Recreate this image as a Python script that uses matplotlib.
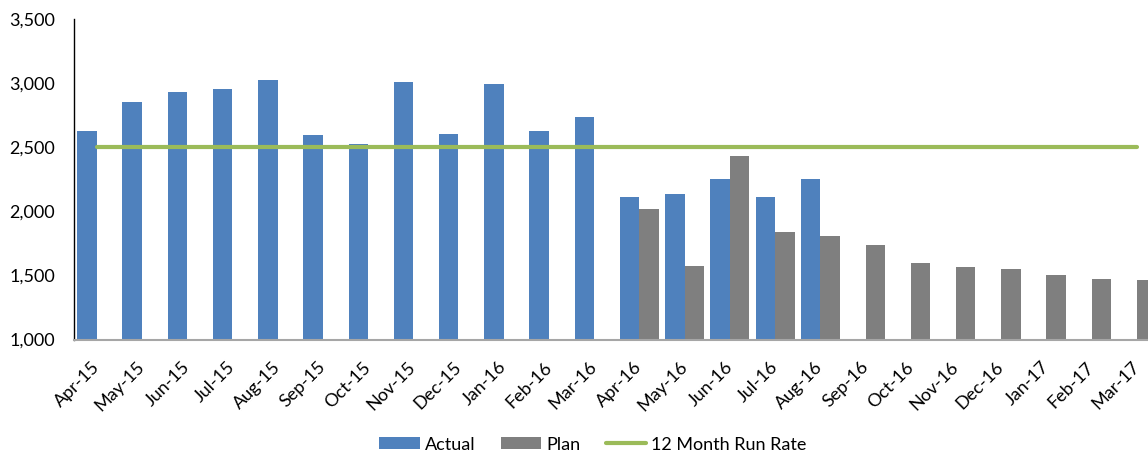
import numpy as np
import matplotlib
matplotlib.use("Agg")
import matplotlib.pyplot as plt
from matplotlib.ticker import FuncFormatter

# ── Data ──────────────────────────────────────────────────────────────────────
months = ["Apr-15", "May-15", "Jun-15", "Jul-15", "Aug-15", "Sep-15",
          "Oct-15", "Nov-15", "Dec-15", "Jan-16", "Feb-16", "Mar-16",
          "Apr-16", "May-16", "Jun-16", "Jul-16", "Aug-16", "Sep-16",
          "Oct-16", "Nov-16", "Dec-16", "Jan-17", "Feb-17", "Mar-17"]

actual = [2630, 2851, 2931, 2955, 3025, 2597, 2526, 3012, 2607, 2991, 2630, 2734,
          2111, 2132, 2249, 2111, 2249,
          np.nan, np.nan, np.nan, np.nan, np.nan, np.nan, np.nan]

plan = [np.nan] * 12 + [2015, 1574, 2433, 1841, 1807, 1737,
                        1600, 1566, 1553, 1506, 1473, 1462]

run_rate = [2500] * 24

BLUE  = "#4F81BD"
GREY  = "#7F7F7F"
GREEN = "#9BBB59"

plt.rcParams["font.family"] = ["Lato", "DejaVu Sans"]
FS = 13

# ── Figure ────────────────────────────────────────────────────────────────────
fig = plt.figure(figsize=(11.48, 4.55), dpi=100, facecolor="white")
ax = fig.add_axes([0.0645, 0.2538, 0.9455, 0.7044])

x = np.arange(len(months))
w = 0.43
b_act = ax.bar(x - w / 2, actual, width=w, color=BLUE, label="Actual", zorder=2)
b_plan = ax.bar(x + w / 2, plan, width=w, color=GREY, label="Plan", zorder=2)
l_rr, = ax.plot(x, run_rate, color=GREEN, lw=3, solid_capstyle="round",
                label="12 Month Run Rate", zorder=3)

ax.set_xlim(-0.5, len(months) - 0.5)
ax.set_ylim(1000, 3500)
ax.set_yticks(np.arange(1000, 3501, 500))
ax.yaxis.set_major_formatter(FuncFormatter(lambda v, p: f"{v:,.0f}"))

ax.set_xticks(x)
ax.set_xticklabels(months, rotation=45, ha="right", va="center",
                   rotation_mode="anchor")
ax.tick_params(axis="y", length=0, pad=13.5, labelsize=FS, labelcolor="black")
ax.tick_params(axis="x", length=0, pad=18, labelsize=FS, labelcolor="black")

for side in ["top", "right"]:
    ax.spines[side].set_visible(False)
ax.spines["left"].set_color("black")
ax.spines["left"].set_linewidth(1.0)
ax.spines["bottom"].set_color("#A6A6A6")
ax.spines["bottom"].set_linewidth(1.5)
ax.spines["bottom"].set_zorder(4)

fig.legend(handles=[b_act, b_plan, l_rr],
           loc="center", bbox_to_anchor=(0.5165, 0.023), ncol=3,
           frameon=False, fontsize=FS, handlelength=2.23, handleheight=0.62,
           handletextpad=0.29, columnspacing=1.4, borderpad=0)

fig.savefig("out.png", dpi=100, facecolor="white")
